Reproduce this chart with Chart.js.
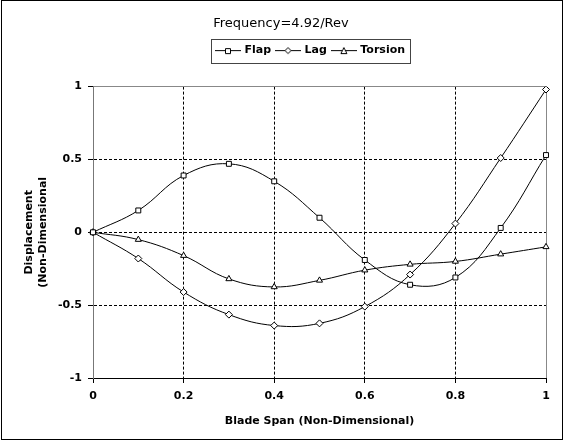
<!DOCTYPE html>
<html>
<head>
<meta charset="utf-8">
<script src="https://cdn.jsdelivr.net/npm/chart.js@4/dist/chart.umd.min.js"></script>
<style>
  html, body { margin: 0; padding: 0; background: #fff; }
  #wrap { width: 563px; height: 440px; }
</style>
</head>
<body>
<div id="wrap"><canvas id="modeChart" width="563" height="440"></canvas></div>
<script>
// blade station (non-dimensional span)
const span = [0, 0.1, 0.2, 0.3, 0.4, 0.5, 0.6, 0.7, 0.8, 0.9, 1];
const flap = [0, 0.15, 0.39, 0.47, 0.35, 0.10, -0.19, -0.36, -0.31, 0.03, 0.53];
const lag = [0, -0.18, -0.41, -0.565, -0.64, -0.625, -0.51, -0.29, 0.06, 0.51, 0.98];
const torsion = [0, -0.05, -0.16, -0.32, -0.375, -0.33, -0.26, -0.22, -0.20, -0.15, -0.10];
const xTickValues = [0, 0.2, 0.4, 0.6, 0.8, 1];
const yTickValues = [-1, -0.5, 0, 0.5, 1];

const FONT = 'DejaVu Sans, Verdana, sans-serif';

function legendIcon(style) {
    const c = document.createElement('canvas');
    c.width = 26; c.height = 10;
    const g = c.getContext('2d');
    g.strokeStyle = '#000';
    g.lineWidth = 1;
    g.beginPath(); g.moveTo(0, 5.5); g.lineTo(26, 5.5); g.stroke();
    g.fillStyle = '#fff';
    g.beginPath();
    if (style === 'rect') {
        g.rect(10.5, 3.5, 5, 5);
    } else if (style === 'rectRot') {
        g.moveTo(13, 2.5); g.lineTo(16, 5.5); g.lineTo(13, 8.5); g.lineTo(10, 5.5); g.closePath();
    } else {
        g.moveTo(13, 2.5); g.lineTo(16, 8.5); g.lineTo(10, 8.5); g.closePath();
    }
    g.fill(); g.stroke();
    return c;
}

function series(label, values, style) {
    return {
        label: label,
        data: span.map((x, i) => ({ x: x, y: values[i] })),
        borderColor: '#000',
        borderWidth: 1,
        backgroundColor: '#fff',
        pointStyle: style,
        pointRadius: 3.5,
        pointBorderWidth: 1,
        pointBackgroundColor: '#fff',
        pointBorderColor: '#000',
        tension: 0.4,
        legendIcon: legendIcon(style)
    };
}

const isInner = (v, lo, hi) => v > lo && v < hi;

// title and legend sit a little right of centre in the original
const nudgePlugin = {
    id: 'nudge',
    afterLayout(chart) {
        if (chart.titleBlock) { chart.titleBlock.left += 8; chart.titleBlock.right += 8; }
        if (chart.legend) { chart.legend.left += 38; chart.legend.right += 38; }
    }
};

const framePlugin = {
    id: 'frame',
    afterDraw(chart) {
        const ctx = chart.ctx;
        ctx.save();
        ctx.strokeStyle = '#000';
        ctx.lineWidth = 1;
        ctx.setLineDash([]);
        ctx.strokeRect(1.5, 0.5, chart.width - 2, chart.height - 1);
        const boxes = chart.legend.legendHitBoxes;
        if (boxes && boxes.length) {
            const l = Math.min(...boxes.map((b) => b.left)) - 6;
            const r = Math.max(...boxes.map((b) => b.left + b.width)) + 5;
            const t = boxes[0].top - 6;
            const b = boxes[0].top + boxes[0].height + 7;
            ctx.strokeStyle = '#444';
            ctx.strokeRect(Math.round(l) + 0.5, Math.round(t) + 0.5, Math.round(r - l), Math.round(b - t));
        }
        ctx.restore();
    }
};

new Chart(document.getElementById('modeChart'), {
    type: 'line',
    data: {
        datasets: [
            series('Flap', flap, 'rect'),
            series('Lag', lag, 'rectRot'),
            series('Torsion', torsion, 'triangle')
        ]
    },
    options: {
        responsive: false,
        animation: false,
        devicePixelRatio: 1,
        layout: { padding: { left: 0, right: 17, top: 0, bottom: 0 } },
        plugins: {
            title: {
                display: true,
                text: 'Frequency=4.92/Rev',
                color: '#000',
                font: { family: FONT, size: 13, weight: 'normal' },
                padding: { top: 16, bottom: 7 }
            },
            legend: {
                display: true,
                position: 'top',
                labels: {
                    color: '#000',
                    font: { family: FONT, size: 11, weight: 'bold' },
                    usePointStyle: true,
                    pointStyleWidth: 22,
                    padding: 6,
                    generateLabels(chart) {
                        return chart.data.datasets.map((ds, i) => ({
                            text: ds.label,
                            pointStyle: ds.legendIcon,
                            fillStyle: '#fff',
                            strokeStyle: '#000',
                            lineWidth: 0,
                            hidden: false,
                            datasetIndex: i,
                            fontColor: '#000'
                        }));
                    }
                }
            },
            tooltip: { enabled: false }
        },
        scales: {
            gap: {
                type: 'linear',
                position: 'top',
                display: true,
                grid: { display: false },
                border: { display: false },
                ticks: { display: false },
                afterFit: (s) => { s.height = 21; }
            },
            x: {
                type: 'linear',
                position: 'bottom',
                min: 0,
                max: 1,
                afterBuildTicks: (s) => { s.ticks = xTickValues.map((v) => ({ value: v })); },
                ticks: {
                    color: '#000',
                    font: { family: FONT, size: 11, weight: 'bold' },
                    padding: 7,
                    maxRotation: 0,
                    callback: (v) => String(v)
                },
                grid: {
                    color: (c) => (c.tick && c.tick.value === 1 ? '#888' : '#000'),
                    lineWidth: 1,
                    tickLength: 5,
                    tickColor: '#000'
                },
                border: {
                    display: true,
                    color: '#000',
                    dash: (c) => (c.tick && isInner(c.tick.value, 0, 1) ? [3, 2] : [])
                },
                title: {
                    display: true,
                    text: 'Blade Span (Non-Dimensional)',
                    color: '#000',
                    font: { family: FONT, size: 11, weight: 'bold' },
                    padding: { top: 4, bottom: 12 }
                },
                afterFit: (s) => { s.height = 62; }
            },
            y: {
                type: 'linear',
                position: 'left',
                min: -1,
                max: 1,
                afterBuildTicks: (s) => { s.ticks = yTickValues.map((v) => ({ value: v })); },
                ticks: {
                    color: '#000',
                    font: { family: FONT, size: 11, weight: 'bold' },
                    padding: 6,
                    callback: (v) => String(v)
                },
                grid: {
                    color: (c) => (c.tick && c.tick.value === 1 ? '#888' : '#000'),
                    lineWidth: 1,
                    tickLength: 5,
                    tickColor: '#000'
                },
                border: {
                    display: true,
                    color: '#777',
                    dash: (c) => (c.tick && isInner(c.tick.value, -1, 1) ? [3, 2] : [])
                },
                title: {
                    display: true,
                    text: ['Displacement', '(Non-Dimensional'],
                    color: '#000',
                    font: { family: FONT, size: 11, weight: 'bold' },
                    padding: { top: 23, bottom: 0 }
                },
                afterFit: (s) => { s.width = 93; }
            }
        }
    },
    plugins: [nudgePlugin, framePlugin]
});
</script>
</body>
</html>
